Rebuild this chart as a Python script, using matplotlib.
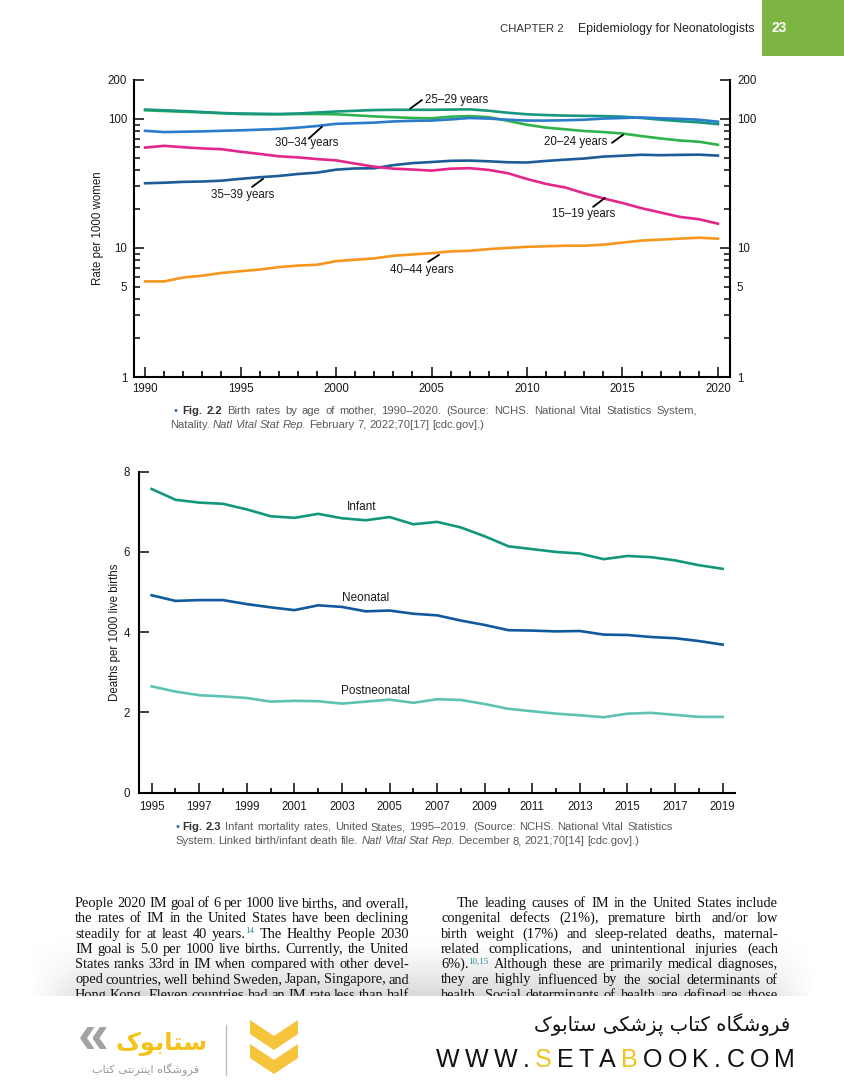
import numpy as np
import matplotlib
matplotlib.use('Agg')
import matplotlib.pyplot as plt
from matplotlib.ticker import FixedLocator, FuncFormatter
from matplotlib.patches import Rectangle, Polygon

# Fig 2.2 - birth rates by age of mother (per 1000 women)
years_a = list(range(1990, 2021))
age_15_19 = [59.9, 61.8, 60.3, 59.0, 58.2, 55.6, 53.5, 51.3, 50.3, 48.8, 47.7, 45.0, 42.6, 41.1, 40.5, 39.7,
             41.1, 41.5, 40.2, 37.9, 34.2, 31.3, 29.4, 26.5, 24.2, 22.3, 20.3, 18.8, 17.4, 16.7, 15.4]
age_20_24 = [116.5, 115.0, 113.5, 112.0, 110.5, 109.0, 108.5, 108.5, 109.0, 109.0, 108.5, 106.5, 104.5, 103.0, 101.5, 101.0,
             104.0, 105.0, 103.0, 96.5, 90.0, 85.5, 83.0, 80.5, 79.0, 77.0, 73.5, 70.5, 68.0, 66.5, 63.0]
age_25_29 = [118.0, 116.5, 115.0, 113.0, 111.0, 110.0, 109.5, 109.0, 110.0, 112.0, 114.0, 115.5, 117.0, 117.5, 117.5, 117.5,
             118.0, 118.5, 115.5, 111.5, 108.5, 107.0, 106.0, 105.5, 105.0, 104.0, 101.5, 98.5, 96.0, 94.0, 91.0]
age_30_34 = [80.8, 79.0, 79.5, 80.0, 80.8, 81.5, 82.5, 83.5, 85.5, 88.0, 91.5, 92.5, 93.5, 95.5, 96.5, 97.0,
             99.0, 101.5, 100.5, 98.5, 97.0, 97.0, 97.5, 98.5, 100.5, 101.5, 102.5, 101.0, 100.0, 98.5, 95.0]
age_35_39 = [31.7, 32.0, 32.5, 32.7, 33.2, 34.3, 35.3, 36.1, 37.4, 38.3, 40.4, 41.3, 41.4, 43.8, 45.4, 46.3,
             47.3, 47.5, 46.9, 46.1, 45.9, 47.2, 48.3, 49.3, 51.0, 51.8, 52.7, 52.3, 52.6, 52.8, 51.9]
age_40_44 = [5.5, 5.5, 5.9, 6.1, 6.4, 6.6, 6.8, 7.1, 7.3, 7.4, 7.9, 8.1, 8.3, 8.7, 8.9, 9.1,
             9.4, 9.5, 9.8, 10.0, 10.2, 10.3, 10.4, 10.4, 10.6, 11.0, 11.4, 11.6, 11.8, 12.0, 11.8]

# Fig 2.3 - infant mortality (deaths per 1000 live births)
years_b = list(range(1995, 2020))
infant = [7.57, 7.30, 7.23, 7.20, 7.06, 6.89, 6.85, 6.95, 6.84, 6.79, 6.87, 6.69, 6.75, 6.61, 6.39,
          6.14, 6.07, 6.00, 5.96, 5.82, 5.90, 5.87, 5.79, 5.67, 5.58]
neonatal = [4.92, 4.78, 4.80, 4.80, 4.70, 4.62, 4.55, 4.67, 4.63, 4.52, 4.54, 4.46, 4.42, 4.29, 4.18,
            4.05, 4.04, 4.02, 4.03, 3.94, 3.93, 3.88, 3.85, 3.78, 3.69]
postneonatal = [2.65, 2.52, 2.43, 2.40, 2.36, 2.27, 2.29, 2.28, 2.22, 2.27, 2.32, 2.24, 2.33, 2.31, 2.21,
                2.09, 2.03, 1.97, 1.93, 1.88, 1.97, 1.99, 1.94, 1.89, 1.89]

SANS = ['Liberation Sans', 'DejaVu Sans']
SERIF = ['Liberation Serif', 'DejaVu Serif']
INK = '#1a1a1a'

fig = plt.figure(figsize=(8.44, 10.8), dpi=100)
page = fig.add_axes([0, 0, 1, 1])
page.set_xlim(0, 844)
page.set_ylim(1080, 0)
page.axis('off')
renderer = fig.canvas.get_renderer()

# ---------- chart 1 ----------
ax1 = fig.add_axes([134 / 844, 1 - 377 / 1080, 596 / 844, 297 / 1080])
ax1.set_yscale('log')
lw = 1.9
ax1.plot(years_a, age_20_24, color='#2eb34b', lw=lw)
ax1.plot(years_a, age_25_29, color='#17977f', lw=lw)
ax1.plot(years_a, age_30_34, color='#2b7bcb', lw=lw)
ax1.plot(years_a, age_35_39, color='#1c5d97', lw=lw)
ax1.plot(years_a, age_15_19, color='#e3268b', lw=lw)
ax1.plot(years_a, age_40_44, color='#f7951d', lw=lw)
ax1.set_xlim(1989.42, 2020.63)
ax1.set_ylim(1, 200)

ax1.yaxis.set_major_locator(FixedLocator([1, 10, 100, 200]))
ax1.yaxis.set_minor_locator(FixedLocator([2, 3, 4, 5, 6, 7, 8, 9, 20, 30, 40, 50, 60, 70, 80, 90]))
ax1.yaxis.set_major_formatter(FuncFormatter(lambda v, p: f'{v:g}'))
ax1.yaxis.set_minor_formatter(FuncFormatter(lambda v, p: '5' if v == 5 else ''))
ax1.xaxis.set_major_locator(FixedLocator(list(range(1990, 2021, 5))))
ax1.xaxis.set_minor_locator(FixedLocator(years_a))
ax1.tick_params(axis='y', which='both', direction='in', left=True, right=True,
                labelleft=True, labelright=True, labelsize=8.3, pad=5, width=1.2, colors=INK)
ax1.tick_params(axis='y', which='major', length=7)
ax1.tick_params(axis='y', which='minor', length=4)
ax1.tick_params(axis='x', which='major', direction='in', length=7, width=1.2, pad=4.5, labelsize=8.3, colors=INK)
ax1.tick_params(axis='x', which='minor', direction='in', length=4, width=1.2)
ax1.spines['top'].set_visible(False)
for s in ['left', 'right', 'bottom']:
    ax1.spines[s].set_linewidth(1.5)
for lab in ax1.get_xticklabels() + ax1.get_yticklabels(which='both'):
    lab.set_family(SANS)
ax1.text(-0.0604, 0.5, 'Rate per 1000 women', transform=ax1.transAxes, rotation=90,
         ha='center', va='center', fontsize=8.3, family=SANS, color=INK)

# series labels with leader lines
lab_a = [('25–29 years', (2004.66, 140), (2003.87, 119.7), (2004.5, 140), 'left'),
         ('30–34 years', (1998.47, 65.5), (1998.57, 70.3), (1999.27, 87.1), 'center'),
         ('35–39 years', (1995.13, 25.8), (1995.6, 29.7), (1996.18, 34.3), 'center'),
         ('40–44 years', (2004.5, 6.75), (2004.82, 7.8), (2005.39, 8.83), 'center'),
         ('20–24 years', (2012.57, 66.4), (2014.45, 65.2), (2015.03, 75.2), 'center'),
         ('15–19 years', (2012.98, 18.4), (2013.46, 20.8), (2014.08, 24.4), 'center')]
for txt, tpos, p0, p1, ha in lab_a:
    ax1.text(tpos[0], tpos[1], txt, ha=ha, va='center', fontsize=8.3, family=SANS, color=INK)
    ax1.annotate('', xy=p1, xytext=p0,
                 arrowprops=dict(arrowstyle='-', color='black', lw=1.3, shrinkA=0, shrinkB=0))

# ---------- chart 2 ----------
ax2 = fig.add_axes([139.3 / 844, 1 - 792.7 / 1080, 595.7 / 844, 321 / 1080])
ax2.plot(years_b, infant, color='#13977c', lw=lw)
ax2.plot(years_b, neonatal, color='#10599c', lw=lw)
ax2.plot(years_b, postneonatal, color='#5ec3b5', lw=lw)
ax2.set_xlim(1994.48, 2019.52)
ax2.set_ylim(0, 8)
ax2.set_yticks([0, 2, 4, 6, 8])
ax2.xaxis.set_major_locator(FixedLocator(list(range(1995, 2020, 2))))
ax2.xaxis.set_minor_locator(FixedLocator(list(range(1996, 2020, 2))))
ax2.tick_params(axis='both', which='major', direction='in', length=7, width=1.2, labelsize=8.3, colors=INK)
ax2.tick_params(axis='x', which='minor', direction='in', length=3.5, width=1.2)
ax2.tick_params(axis='x', pad=6)
ax2.tick_params(axis='y', pad=6.5)
ax2.spines['top'].set_visible(False)
ax2.spines['right'].set_visible(False)
for s in ['left', 'bottom']:
    ax2.spines[s].set_linewidth(1.5)
for lab in ax2.get_xticklabels() + ax2.get_yticklabels():
    lab.set_family(SANS)
ax2.text(-0.0408, 0.5, 'Deaths per 1000 live births', transform=ax2.transAxes, rotation=90,
         ha='center', va='center', fontsize=8.3, family=SANS, color=INK)
for txt, x, y in [('Infant', 2003.82, 7.13), ('Neonatal', 2004.0, 4.86), ('Postneonatal', 2004.42, 2.54)]:
    ax2.text(x, y, txt, ha='center', va='center', fontsize=8.5, family=SANS, color=INK)


# ---------- page text ----------
def words_of(segs):
    words = [[]]
    for txt, st in segs:
        chunks = txt.split(' ')
        for i, ch in enumerate(chunks):
            if i > 0:
                words.append([])
            if ch:
                words[-1].append((ch, st))
    return [w for w in words if w]


def put_line(segs, x0, y, x1=None, size=9.3, family=SERIF, color='#111111', z=3):
    arts = []
    for w in words_of(segs):
        parts = []
        for txt, st in w:
            st = dict(st)
            dy = st.pop('dy', 0)
            t = page.text(x0, y - dy, txt, fontsize=st.pop('size', size), family=st.pop('family', family),
                          color=st.pop('color', color), va='baseline', ha='left', zorder=z, **st)
            parts.append(t)
        arts.append(parts)
    widths = [[p.get_window_extent(renderer).width for p in parts] for parts in arts]
    total = sum(sum(ws) for ws in widths)
    gap = size * 100 / 72 * 0.25
    if x1 is not None and len(arts) > 1:
        gap = max(1.0, (x1 - x0 - total) / (len(arts) - 1))
    x = x0
    for parts, ws in zip(arts, widths):
        for p, wd in zip(parts, ws):
            p.set_x(x)
            x += wd
        x += gap


def fit(t, width):
    w = t.get_window_extent(renderer).width
    t.set_fontsize(t.get_fontsize() * width / w)


# header
page.add_patch(Rectangle((762, 0), 82, 56, color='#7db543', zorder=2, lw=0))
hdr = ['Liberation Sans Narrow', 'Liberation Sans', 'DejaVu Sans']
t = page.text(500, 32, 'CHAPTER 2', fontsize=9, family=hdr, color='#333333', va='baseline')
fit(t, 64)
t = page.text(578, 32, 'Epidemiology for Neonatologists', fontsize=9, family=hdr, color='#222222', va='baseline')
fit(t, 177)
page.text(779, 32, '23', fontsize=10, family=SANS, weight='bold', color='white', va='baseline', ha='center', zorder=3)

# captions
CAP = dict(color='#5a5a5a')
BUL = dict(color='#2c6db3')
FIG = dict(color='#333333', weight='bold')
ITA = dict(color='#5a5a5a', style='italic')
csize = 8.1
put_line([('• ', BUL), ('Fig. 2.2 ', FIG),
          ('Birth rates by age of mother, 1990–2020. (Source: NCHS. National Vital Statistics System,', CAP)],
         173, 413.5, 697, size=csize, family=SANS)
put_line([('Natality. ', CAP), ('Natl Vital Stat Rep.', ITA), (' February 7, 2022;70[17] [cdc.gov].)', CAP)],
         170, 427.5, None, size=csize, family=SANS)
put_line([('• ', BUL), ('Fig. 2.3 ', FIG),
          ('Infant mortality rates, United States, 1995–2019. (Source: NCHS. National Vital Statistics', CAP)],
         175, 830.5, 673, size=csize, family=SANS)
put_line([('System. Linked birth/infant death file. ', CAP), ('Natl Vital Stat Rep.', ITA),
          (' December 8, 2021;70[14] [cdc.gov].)', CAP)],
         175, 844.5, None, size=csize, family=SANS)

# body text
R = {}
SUP = dict(size=6.5, color='#2a8c9c', dy=4.5)
left_col = [
    [('People 2020 IM goal of 6 per 1000 live births, and overall,', R)],
    [('the rates of IM in the United States have been declining', R)],
    [('steadily for at least 40 years.', R), ('14', SUP), (' The Healthy People 2030', R)],
    [('IM goal is 5.0 per 1000 live births. Currently, the United', R)],
    [('States ranks 33rd in IM when compared with other devel-', R)],
    [('oped countries, well behind Sweden, Japan, Singapore, and', R)],
    [('Hong Kong. Eleven countries had an IM rate less than half', R)],
]
right_col = [
    [('The leading causes of IM in the United States include', R)],
    [('congenital defects (21%), premature birth and/or low', R)],
    [('birth weight (17%) and sleep-related deaths, maternal-', R)],
    [('related complications, and unintentional injuries (each', R)],
    [('6%).', R), ('10,15', SUP), (' Although these are primarily medical diagnoses,', R)],
    [('they are highly influenced by the social determinants of', R)],
    [('health. Social determinants of health are defined as those', R)],
]
bsize = 10.4
for i, segs in enumerate(left_col):
    put_line(segs, 75, 907 + 15.3 * i, 409, size=bsize)
for i, segs in enumerate(right_col):
    put_line(segs, 457 if i == 0 else 441, 907 + 15.3 * i, 778, size=bsize)

# grey fade at the bottom of the page scan
ramp = np.linspace(0, 1, 60)[:, None] ** 1.4
edge = np.clip(np.minimum(np.linspace(0, 1, 400), np.linspace(1, 0, 400)) * 12, 0, 1)[None, :]
img = np.zeros((60, 400, 4))
img[..., :3] = 0.80
img[..., 3] = ramp * edge * 0.75
page.imshow(img, extent=(30, 814, 996, 936), aspect='auto', zorder=1, interpolation='bilinear')
page.add_patch(Rectangle((0, 996), 844, 84, color='white', zorder=5, lw=0))

# ---------- footer ----------
FORMS = {
    'ا': (0xFE8D, 0xFE8E, None, None), 'ب': (0xFE8F, 0xFE90, 0xFE91, 0xFE92),
    'پ': (0xFB56, 0xFB57, 0xFB58, 0xFB59), 'ت': (0xFE95, 0xFE96, 0xFE97, 0xFE98),
    'ر': (0xFEAD, 0xFEAE, None, None), 'ز': (0xFEAF, 0xFEB0, None, None),
    'س': (0xFEB1, 0xFEB2, 0xFEB3, 0xFEB4), 'ش': (0xFEB5, 0xFEB6, 0xFEB7, 0xFEB8),
    'ف': (0xFED1, 0xFED2, 0xFED3, 0xFED4), 'ک': (0xFB8E, 0xFB8F, 0xFB90, 0xFB91),
    'گ': (0xFB92, 0xFB93, 0xFB94, 0xFB95), 'ن': (0xFEE5, 0xFEE6, 0xFEE7, 0xFEE8),
    'و': (0xFEED, 0xFEEE, None, None), 'ه': (0xFEE9, 0xFEEA, 0xFEEB, 0xFEEC),
    'ی': (0xFBFC, 0xFBFD, 0xFBFE, 0xFBFF),
}


def shape(s):
    out = []
    for i, c in enumerate(s):
        if c not in FORMS:
            out.append(c)
            continue
        prev = s[i - 1] if i > 0 else ' '
        nxt = s[i + 1] if i + 1 < len(s) else ' '
        jp = prev in FORMS and FORMS[prev][2] is not None
        jn = nxt in FORMS and FORMS[c][2] is not None
        iso, fin, ini, med = FORMS[c]
        g = med if (jp and jn) else fin if jp else ini if jn else iso
        out.append(chr(g))
    return ''.join(reversed(out))


t = page.text(790, 1031, shape('فروشگاه کتاب پزشکی ستابوک'), ha='right', va='baseline',
              fontsize=15, family=['DejaVu Sans'], color='#111111', zorder=6)
fit(t, 255)
YEL = dict(color='#f3c21b')
put_line([(c + ' ', YEL if i in (4, 8) else {}) for i, c in enumerate('WWW.SETABOOK.COM')],
         436, 1067, 795, size=18, family=SANS, color='#111111', z=6)

# logo
page.text(93, 1053, '«', ha='center', va='baseline', fontsize=40, family=SANS, weight='bold',
          color='#a3a3a3', zorder=6)
t = page.text(162, 1050, shape('ستابوک'), ha='center', va='baseline', fontsize=22, family=['DejaVu Sans'],
              weight='bold', color='#f3c21b', zorder=6)
fit(t, 92)
t = page.text(146, 1073, shape('فروشگاه اینترنتی کتاب'), ha='center', va='baseline', fontsize=8,
              family=['DejaVu Sans'], color='#9a9a9a', zorder=6)
fit(t, 108)
page.plot([226, 226], [1025, 1075], color='#bdbdbd', lw=1, zorder=6)
page.add_patch(Polygon([(250, 1020), (274, 1036), (298, 1020), (298, 1034), (274, 1050), (250, 1034)],
                       closed=True, color='#f5c43a', lw=0, zorder=6))
page.add_patch(Polygon([(250, 1044), (274, 1060), (298, 1044), (298, 1058), (274, 1074), (250, 1058)],
                       closed=True, color='#f5c43a', lw=0, zorder=6))

fig.savefig('out.png', dpi=100)
